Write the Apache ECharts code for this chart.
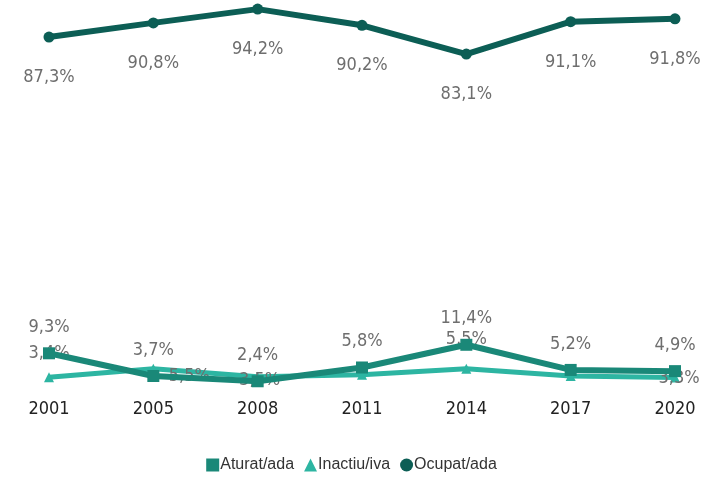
<!DOCTYPE html>
<html>
<head>
<meta charset="utf-8">
<script src="https://cdn.jsdelivr.net/npm/echarts@6/dist/echarts.min.js"></script>
<style>
  html, body { margin: 0; padding: 0; background: #fff; }
  #chart { width: 703px; height: 478px; }
</style>
</head>
<body>
<div id="chart"></div>
<script>
const years = ["2001", "2005", "2008", "2011", "2014", "2017", "2020"];
const aturat = [9.3, 3.7, 2.4, 5.8, 11.4, 5.2, 4.9];
const inactiu = [3.4, 5.5, 3.5, 4.0, 5.5, 3.7, 3.3];
const ocupat = [87.3, 90.8, 94.2, 90.2, 83.1, 91.1, 91.8];

// label placement for the inactive series (label offsets, [x, y]); null = no label
const inactiuLabelOffsets = [[0, -24], [36, 8], [2, 4], null, [0, -29], null, [4, 1]];

const labelFont = '"Liberation Sans Narrow", "DejaVu Sans Condensed", sans-serif';
const fmt = p => p.value.toFixed(1).replace('.', ',') + '%';

const chart = echarts.init(document.getElementById('chart'));

chart.setOption({
  animation: false,
  grid: { left: 49, right: 28, top: 1, bottom: 87 },
  legend: {
    bottom: 0,
    left: 'center',
    itemWidth: 13,
    itemHeight: 13,
    itemGap: 10,
    textStyle: { fontSize: 16, color: '#333', fontFamily: 'Liberation Sans, Arial, sans-serif', padding: [0, 0, 0, -4] },
    data: [
      { name: 'Aturat/ada', icon: 'rect' },
      { name: 'Inactiu/iva', icon: 'triangle' },
      { name: 'Ocupat/ada', icon: 'circle' }
    ]
  },
  xAxis: {
    type: 'category',
    data: years,
    boundaryGap: false,
    axisLine: { show: false },
    axisTick: { show: false },
    axisLabel: { fontSize: 18, color: '#222', margin: 9, fontFamily: labelFont }
  },
  yAxis: {
    type: 'value',
    min: 0,
    max: 96.2,
    show: false,
    splitLine: { show: false }
  },
  series: [
    {
      name: 'Inactiu/iva',
      type: 'line',
      data: inactiu.map((v, i) => {
        const off = inactiuLabelOffsets[i];
        return off ? { value: v, label: { offset: off } } : { value: v, label: { show: false } };
      }),
      symbol: 'triangle',
      symbolSize: 10,
      lineStyle: { width: 5, color: '#2db5a2' },
      itemStyle: { color: '#2db5a2' },
      label: {
        show: true,
        position: 'inside',
        formatter: fmt,
        fontSize: 18,
        color: '#6e6e6e',
        fontFamily: labelFont
      },
      z: 2
    },
    {
      name: 'Aturat/ada',
      type: 'line',
      data: aturat,
      symbol: 'rect',
      symbolSize: 12,
      lineStyle: { width: 6, color: '#1a8878' },
      itemStyle: { color: '#1a8878' },
      label: {
        show: true,
        position: 'top',
        distance: 11,
        formatter: fmt,
        fontSize: 18,
        color: '#6e6e6e',
        fontFamily: labelFont
      },
      z: 3
    },
    {
      name: 'Ocupat/ada',
      type: 'line',
      data: ocupat,
      symbol: 'circle',
      symbolSize: 11,
      lineStyle: { width: 6, color: '#0c5e55' },
      itemStyle: { color: '#0c5e55' },
      label: {
        show: true,
        position: 'bottom',
        distance: 26,
        formatter: fmt,
        fontSize: 18,
        color: '#6e6e6e',
        fontFamily: labelFont
      },
      z: 4
    }
  ]
});
</script>
</body>
</html>
